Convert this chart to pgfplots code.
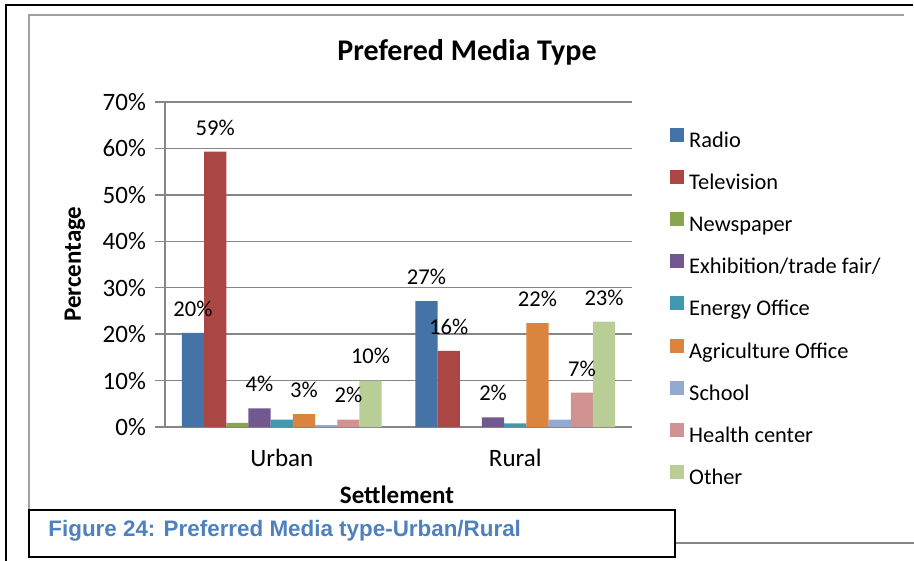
\documentclass[border=0pt]{standalone}
\usepackage{pgfplots}
\pgfplotsset{compat=1.18}
\usepackage{fontspec}
\setmainfont{Carlito}
\newfontfamily\arialfont{Liberation Sans}
\definecolor{cRadio}{HTML}{4572A7}
\definecolor{cTV}{HTML}{AA4643}
\definecolor{cNews}{HTML}{89A54E}
\definecolor{cExhib}{HTML}{71588F}
\definecolor{cEnergy}{HTML}{4198AF}
\definecolor{cAgri}{HTML}{DB843D}
\definecolor{cSchool}{HTML}{93A9CF}
\definecolor{cHealth}{HTML}{D19392}
\definecolor{cOther}{HTML}{B9CD96}
\definecolor{axgray}{RGB}{134,134,134}
\definecolor{framegray}{RGB}{160,160,160}
\definecolor{capblue}{RGB}{79,129,189}
\begin{document}
\begin{tikzpicture}
\begin{scope}[x=0.5pt,y=-0.5pt]
\useasboundingbox (0,0) rectangle (914,561);
% outer frames
\draw[black,line width=0.75pt] (6,561) -- (6,5) -- (913,5);
\draw[framegray,line width=0.75pt] (29,510) -- (29,15) -- (904,15);
\draw[axgray,line width=0.75pt] (675,543) -- (914,543);
\end{scope}
\begin{axis}[
  at={(82.5pt,-213.5pt)}, anchor=south west,
  scale only axis, width=233.5pt, height=162.5pt,
  xmin=-0.5, xmax=1.5, ymin=0, ymax=70,
  ybar=0pt, bar width=11.1pt,
  xtick={0,1}, xticklabels={Urban,Rural},
  ytick={0,10,20,30,40,50,60,70},
  yticklabels={0\%,10\%,20\%,30\%,40\%,50\%,60\%,70\%},
  axis x line*=bottom, axis y line*=left,
  axis line style={axgray, line width=1pt, -},
  x axis line style={line width=1.2pt},
  ymajorgrids, grid style={axgray, line width=0.75pt},
  tick align=outside, major tick length=5pt,
  x tick style={draw=none}, y tick style={axgray, line width=0.75pt},
  tick label style={font=\fontsize{12.5}{14}\selectfont},
  xticklabel style={yshift=-2.5pt},
  yticklabel style={xshift=-1pt},
  point meta=explicit symbolic,
  every node near coord/.append style={font=\fontsize{11.3}{13}\selectfont, anchor=south, inner sep=0pt, yshift=8pt},
  legend style={at={(1.081,0.921)}, anchor=north west, draw=none, fill=none,
    font=\fontsize{11.2}{13}\selectfont, row sep=8.8pt, inner sep=0pt,
    nodes={inner sep=0pt, inner xsep=2.5pt, text height=8pt, text depth=2.5pt}},
  legend cell align=left,
  legend image code/.code={\fill[#1] (0pt,0pt) rectangle (7pt,7pt);},
]
\addplot[fill=cRadio, draw=none, nodes near coords] coordinates {(0,20.3) [20\%] (1,27.1) [27\%]};
\addlegendentry{Radio}
\addplot[fill=cTV, draw=none, nodes near coords] coordinates {(0,59.3) [59\%] (1,16.4) [16\%]};
\addlegendentry{Television}
\addplot[fill=cNews, draw=none] coordinates {(0,0.9) [] (1,0.0) []};
\addlegendentry{Newspaper}
\addplot[fill=cExhib, draw=none, nodes near coords] coordinates {(0,4.0) [4\%] (1,2.1) [2\%]};
\addlegendentry{Exhibition/trade fair/}
\addplot[fill=cEnergy, draw=none] coordinates {(0,1.6) [] (1,0.8) []};
\addlegendentry{Energy Office}
\addplot[fill=cAgri, draw=none, nodes near coords] coordinates {(0,2.8) [3\%] (1,22.4) [22\%]};
\addlegendentry{Agriculture Office}
\addplot[fill=cSchool, draw=none] coordinates {(0,0.4) [] (1,1.6) []};
\addlegendentry{School}
\addplot[fill=cHealth, draw=none, nodes near coords] coordinates {(0,1.6) [2\%] (1,7.4) [7\%]};
\addlegendentry{Health center}
\addplot[fill=cOther, draw=none, nodes near coords] coordinates {(0,10.0) [10\%] (1,22.7) [23\%]};
\addlegendentry{Other}
\end{axis}
\begin{scope}[x=0.5pt,y=-0.5pt]
% titles and labels
\node[font=\bfseries\fontsize{15}{17}\selectfont] at (467,52) {Prefered Media Type};
\node[font=\bfseries\fontsize{12.5}{14}\selectfont, rotate=90] at (75,264) {Percentage};
\node[font=\bfseries\fontsize{12.5}{14}\selectfont] at (397,495) {Settlement};
% caption box
\draw[black,line width=0.75pt,fill=white] (29,510) rectangle (675,557);
\node[anchor=west, inner sep=0pt, text=capblue, font=\arialfont\bfseries\fontsize{11.2}{13}\selectfont] at (48,531) {Figure 24: Preferred Media type-Urban/Rural};
\end{scope}
\end{tikzpicture}
\end{document}
